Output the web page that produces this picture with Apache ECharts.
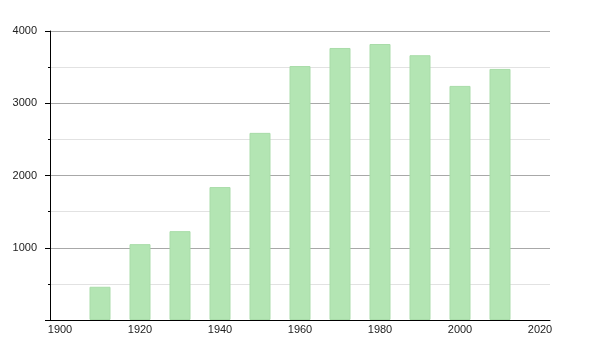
<!DOCTYPE html>
<html>
<head>
<meta charset="utf-8">
<script src="https://cdn.jsdelivr.net/npm/echarts@6/dist/echarts.min.js"></script>
<style>html,body{margin:0;padding:0;background:#fff}#c{width:600px;height:350px}</style>
</head>
<body>
<div id="c"></div>
<script>
var years = [1910, 1920, 1930, 1940, 1950, 1960, 1970, 1980, 1990, 2000, 2010];
var population = [460, 1050, 1230, 1840, 2590, 3515, 3765, 3820, 3665, 3240, 3475];
var xTickLabels = [1900, 1920, 1940, 1960, 1980, 2000, 2020];
var yTickLabels = [1000, 2000, 3000, 4000];

var chart = echarts.init(document.getElementById('c'), null, {renderer: 'canvas'});
chart.setOption({
  animation: false,
  backgroundColor: '#fff',
  grid: {left: 50, right: 50, top: 31, bottom: 30, containLabel: false},
  xAxis: {
    type: 'value',
    min: 1897.5,
    max: 2022.5,
    axisLine: {show: true, lineStyle: {color: '#000', width: 1}},
    axisTick: {show: false},
    splitLine: {show: false},
    axisLabel: {
      customValues: xTickLabels,
      formatter: function (v) { return String(v); },
      color: '#222',
      fontSize: 11,
      fontFamily: 'Liberation Sans, Arial, sans-serif',
      margin: 4
    }
  },
  yAxis: {
    type: 'value',
    min: 0,
    max: 4000,
    interval: 1000,
    axisLine: {show: true, lineStyle: {color: '#000', width: 1}},
    axisTick: {show: true, length: 5, lineStyle: {color: '#000'}},
    minorTick: {show: true, splitNumber: 2, length: 2, lineStyle: {color: '#000'}},
    splitLine: {show: true, lineStyle: {color: '#a8a8a8', width: 1}},
    minorSplitLine: {show: true, lineStyle: {color: '#e2e2e2', width: 1}},
    axisLabel: {
      customValues: yTickLabels,
      formatter: function (v) { return String(v); },
      color: '#222',
      fontSize: 11,
      fontFamily: 'Liberation Sans, Arial, sans-serif',
      margin: 13
    }
  },
  series: [{
    type: 'bar',
    data: years.map(function (y, i) { return [y, population[i]]; }),
    barWidth: 21,
    itemStyle: {color: '#b3e5b3', borderColor: '#a9dca9', borderWidth: 1}
  }]
});
</script>
</body>
</html>
